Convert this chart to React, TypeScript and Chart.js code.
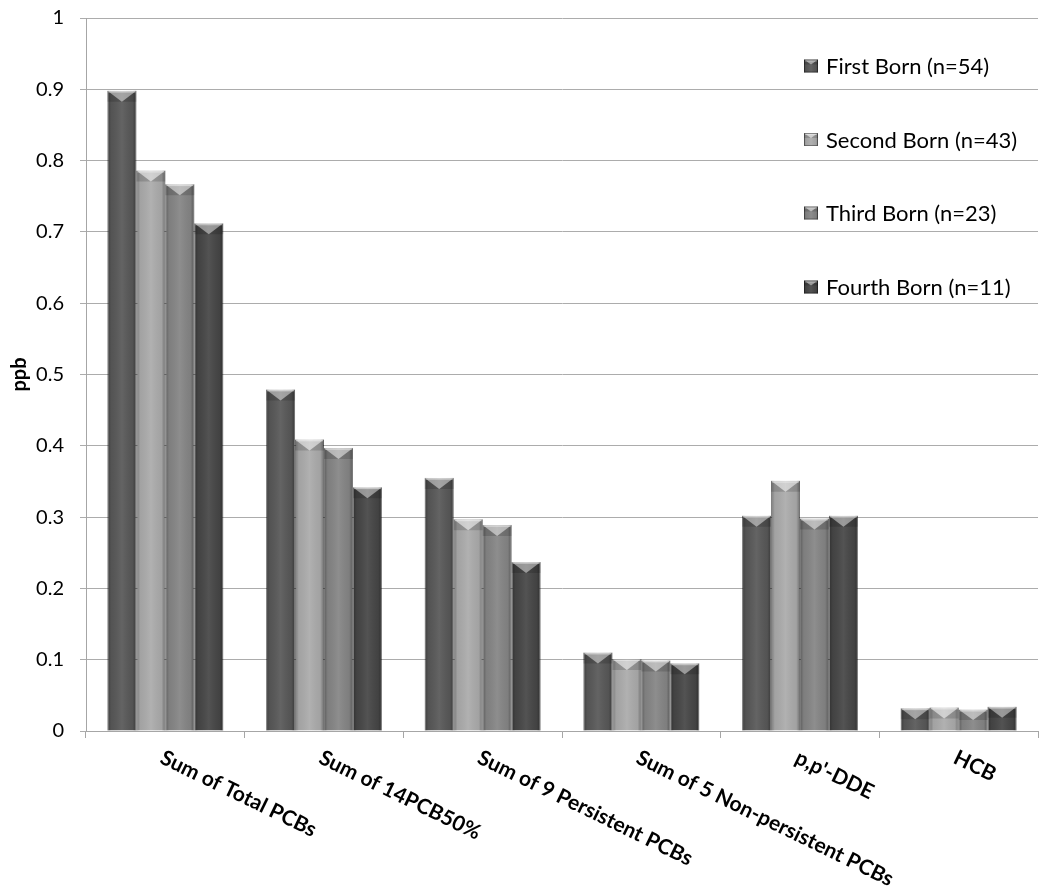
import React, { useEffect, useRef } from "react";
import { Chart, registerables } from "chart.js";

Chart.register(...registerables);

const categories = [
  "Sum of Total PCBs",
  "Sum of 14PCB50%",
  "Sum of 9 Persistent PCBs",
  "Sum of 5 Non-persistent PCBs",
  "p,p'-DDE",
  "HCB",
];
const seriesNames = [
  "First Born (n=54)",
  "Second Born (n=43)",
  "Third Born (n=23)",
  "Fourth Born (n=11)",
];
const firstBorn = [0.898, 0.479, 0.355, 0.11, 0.302, 0.032];
const secondBorn = [0.786, 0.409, 0.297, 0.101, 0.351, 0.033];
const thirdBorn = [0.767, 0.397, 0.289, 0.099, 0.298, 0.03];
const fourthBorn = [0.712, 0.342, 0.237, 0.095, 0.302, 0.034];
const seriesValues = [firstBorn, secondBorn, thirdBorn, fourthBorn];
const seriesColors = ["#585858", "#ababab", "#858585", "#464646"];
const yAxisTitle = "ppb";

const FONT = "Lato, 'Open Sans', sans-serif";
const LABEL_ANGLE = (26 * Math.PI) / 180;

function drawBevel(ctx: CanvasRenderingContext2D, left: number, top: number, w: number, h: number, bt: number) {
  if (h <= 0 || w <= 0) return;
  const b = Math.min(bt, h / 2);
  ctx.save();
  const g = ctx.createLinearGradient(left, 0, left + w, 0);
  g.addColorStop(0, "rgba(0,0,0,0.3)");
  g.addColorStop(0.13, "rgba(0,0,0,0.05)");
  g.addColorStop(0.5, "rgba(255,255,255,0.07)");
  g.addColorStop(0.87, "rgba(0,0,0,0.05)");
  g.addColorStop(1, "rgba(0,0,0,0.34)");
  ctx.fillStyle = g;
  ctx.fillRect(left, top, w, h);
  // top side darker wedges
  ctx.beginPath();
  ctx.moveTo(left, top);
  ctx.lineTo(left + w / 2, top + b);
  ctx.lineTo(left + w, top);
  ctx.lineTo(left + w, top + b);
  ctx.lineTo(left, top + b);
  ctx.closePath();
  ctx.fillStyle = "rgba(0,0,0,0.15)";
  ctx.fill();
  // top light triangle
  ctx.beginPath();
  ctx.moveTo(left, top);
  ctx.lineTo(left + w, top);
  ctx.lineTo(left + w / 2, top + b);
  ctx.closePath();
  ctx.fillStyle = "rgba(255,255,255,0.42)";
  ctx.fill();
  // top highlight line
  ctx.fillStyle = "rgba(255,255,255,0.35)";
  ctx.fillRect(left + 1, top + 1, w - 2, 1);
  ctx.restore();
}

const bevelPlugin = {
  id: "bevel",
  afterDatasetsDraw(chart: any) {
    const ctx = chart.ctx as CanvasRenderingContext2D;
    chart.data.datasets.forEach((_ds: any, di: number) => {
      const meta = chart.getDatasetMeta(di);
      meta.data.forEach((bar: any) => {
        const p = bar.getProps(["x", "y", "base", "width"], true);
        drawBevel(ctx, p.x - p.width / 2, p.y, p.width, p.base - p.y, 11);
      });
    });
  },
};

const labelsAndLegendPlugin = {
  id: "labelsLegend",
  afterDraw(chart: any) {
    const ctx = chart.ctx as CanvasRenderingContext2D;
    const xs = chart.scales.x;
    const area = chart.chartArea;
    ctx.save();
    ctx.fillStyle = "#000";
    ctx.font = `bold 21px ${FONT}`;
    ctx.textAlign = "left";
    ctx.textBaseline = "top";
    categories.forEach((c, i) => {
      const px = xs.getPixelForValue(i);
      ctx.save();
      ctx.translate(px + 1, area.bottom + 16);
      ctx.rotate(LABEL_ANGLE);
      ctx.fillText(c, 0, 0);
      ctx.restore();
    });
    // legend
    ctx.font = `22px ${FONT}`;
    ctx.textBaseline = "middle";
    const legendYs = [66, 139.5, 213, 287];
    chart.data.datasets.forEach((ds: any, i: number) => {
      const cy = legendYs[i];
      const mx = 804;
      ctx.fillStyle = ds.backgroundColor;
      ctx.fillRect(mx, cy - 6.5, 14, 13);
      drawBevel(ctx, mx, cy - 6.5, 14, 13, 5);
      ctx.strokeStyle = "rgba(0,0,0,0.35)";
      ctx.lineWidth = 1;
      ctx.strokeRect(mx + 0.5, cy - 6, 13, 12);
      ctx.fillStyle = "#000";
      ctx.fillText(ds.label, 826, cy + 1);
    });
    ctx.restore();
  },
};

export default function App() {
  const ref = useRef<HTMLCanvasElement | null>(null);
  useEffect(() => {
    document.body.style.margin = "0";
    document.body.style.overflow = "hidden";
    const canvas = ref.current;
    if (!canvas) return;
    const chart = new Chart(canvas, {
      type: "bar",
      data: {
        labels: categories,
        datasets: seriesValues.map((vals, i) => ({
          label: seriesNames[i],
          data: vals,
          backgroundColor: seriesColors[i],
          borderColor: "rgba(0,0,0,0.35)",
          borderWidth: 1,
          categoryPercentage: 0.73,
          barPercentage: 1,
        })),
      },
      options: {
        responsive: false,
        animation: false,
        devicePixelRatio: 1,
        layout: { padding: { top: 18, right: 12, left: 0, bottom: 0 } },
        plugins: {
          legend: { display: false },
          tooltip: { enabled: false },
        },
        scales: {
          x: {
            offset: true,
            grid: {
              offset: true,
              drawOnChartArea: false,
              drawTicks: true,
              tickLength: 7,
              color: "#a6a6a6",
            },
            border: { display: true, color: "#a6a6a6", width: 1 },
            ticks: { display: false },
            afterFit(scale: any) {
              scale.height = 161;
              scale.paddingLeft = 0;
              scale.paddingRight = 0;
            },
          },
          y: {
            min: 0,
            max: 1,
            ticks: {
              stepSize: 0.1,
              color: "#000",
              font: { family: FONT, size: 20 },
              padding: 16,
              callback: (v: any) => String(Number(Number(v).toFixed(1))),
            },
            grid: {
              color: "#acacac",
              tickLength: 6,
              drawTicks: true,
            },
            border: { display: true, color: "#a6a6a6", width: 1 },
            title: {
              display: true,
              text: yAxisTitle,
              color: "#000",
              font: { family: FONT, size: 20, weight: "bold" },
              padding: { top: 8, bottom: 0 },
            },
            afterFit(scale: any) {
              scale.width = 86;
              scale.paddingTop = 0;
              scale.paddingBottom = 0;
            },
          },
        },
      },
      plugins: [bevelPlugin, labelsAndLegendPlugin],
    } as any);
    return () => chart.destroy();
  }, []);
  return (
    <div style={{ width: 1050, height: 892, background: "#fff" }}>
      <canvas ref={ref} width={1050} height={892} style={{ display: "block" }} />
    </div>
  );
}
